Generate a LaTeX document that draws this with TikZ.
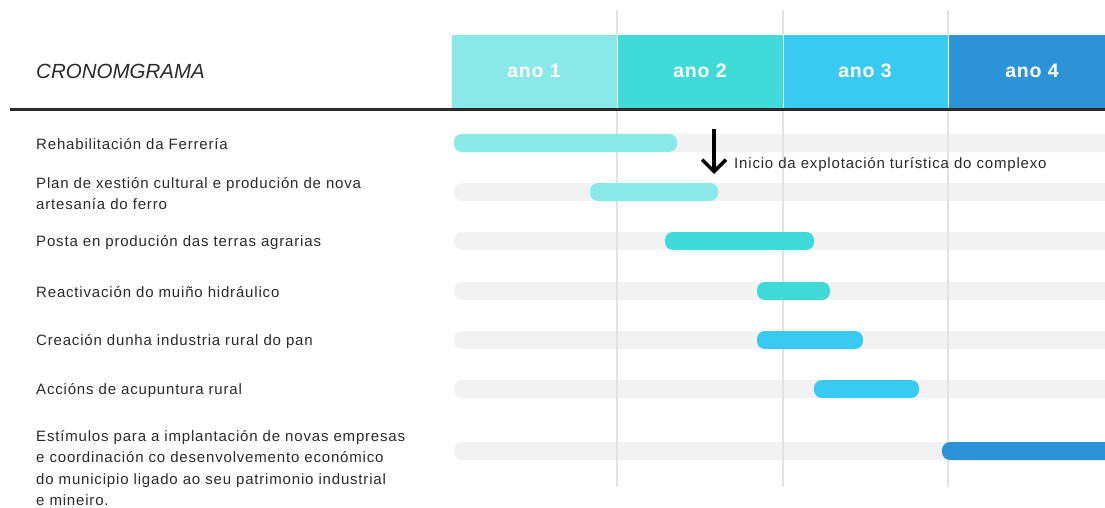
\documentclass[tikz,border=0pt]{standalone}
\usepackage{fontspec}
\setmainfont{Liberation Sans}
\newfontfamily\taskfont[LetterSpace=5.5]{Liberation Sans}
\newfontfamily\yearfont[LetterSpace=4]{Liberation Sans}
\usetikzlibrary{arrows.meta}
\definecolor{cA}{HTML}{88E9E8}
\definecolor{cB}{HTML}{40DBD8}
\definecolor{cC}{HTML}{3AC9F0}
\definecolor{cD}{HTML}{2E92D6}
\definecolor{barbg}{HTML}{F2F2F2}
\definecolor{gridc}{HTML}{E2E2E2}
\definecolor{txt}{HTML}{2A2A2A}
\tikzset{
  yearbox/.style={minimum height=74pt, minimum width=166pt, inner sep=0pt, anchor=north west, draw=white, line width=0.8pt},
  yeartext/.style={text=white, inner sep=0pt, font=\yearfont\fontsize{19.5}{22}\selectfont\bfseries},
  task/.style={anchor=west, inner sep=0pt, text=txt, align=left, font=\taskfont\fontsize{15}{22}\selectfont},
  taskm/.style={anchor=north west, inner sep=0pt, text=txt, align=left, font=\taskfont\fontsize{15}{21.5}\selectfont},
  bgbar/.style={fill=barbg, rounded corners=8pt},
  gridline/.style={draw=gridc, line width=1.2pt},
}
\begin{document}
\begin{tikzpicture}[x=1pt,y=-1pt]
\useasboundingbox (0,0) rectangle (1105,508);
\clip (0,0) rectangle (1105,508);
% background bars
\foreach \yc in {143,192,241,291,340,389,451}
  \fill[bgbar] (454,\yc-9) rectangle (1125,\yc+9);
% grid lines
\foreach \xg in {617,783,948}
  \draw[gridline] (\xg,10) -- (\xg,487);
% header
\node[anchor=west, inner sep=0pt, text=txt, font=\fontsize{20.5}{24}\selectfont\itshape] (title) at (36,71) {CRONOMGRAMA};
\node[yearbox, fill=cA] (y1) at (451,34) {};
\node[yearbox, fill=cB] (y2) at (617,34) {};
\node[yearbox, fill=cC] (y3) at (783,34) {};
\node[yearbox, fill=cD, minimum width=180pt] (y4) at (948,34) {};
\node[yeartext] (y1t) at (534,71) {ano 1};
\node[yeartext] (y2t) at (700,71) {ano 2};
\node[yeartext] (y3t) at (865,71) {ano 3};
\node[yeartext] (y4t) at (1032,71) {ano 4};
\fill[txt] (10,108.5) rectangle (1105,111.5);
% colored bars
\fill[cA, rounded corners=8pt] (454,134) rectangle (677,152);
\fill[cA, rounded corners=8pt] (590,183) rectangle (718,201);
\fill[cB, rounded corners=8pt] (665,232) rectangle (814,250);
\fill[cB, rounded corners=8pt] (757,282) rectangle (830,300);
\fill[cC, rounded corners=8pt] (757,331) rectangle (863,349);
\fill[cC, rounded corners=8pt] (814,380) rectangle (919,398);
\fill[cD, rounded corners=8pt] (942,442) rectangle (1125,460);
% task labels
\node[task] (t1) at (36,144) {Rehabilitación da Ferrería};
\node[taskm] (t2) at (36,177) {Plan de xestión cultural e produción de nova\\artesanía do ferro};
\node[task] (t3) at (36,243) {Posta en produción das terras agrarias};
\node[task] (t4) at (36,292) {Reactivación do muiño hidráulico};
\node[task] (t5) at (36,341.5) {Creación dunha industria rural do pan};
\node[task] (t6) at (36,390.5) {Accións de acupuntura rural};
\node[taskm] (t7) at (36,430) {Estímulos para a implantación de novas empresas\\e coordinación co desenvolvemento económico\\do municipio ligado ao seu patrimonio industrial\\e mineiro.};
% milestone
\coordinate (a0) at (714,129);
\coordinate (a1) at (714,174);
\draw[line width=3.5pt, -{Straight Barb[length=12pt,width=24pt,line width=3.5pt]}] (a0) -- (a1);
\node[task] (ms) at (734,164.5) {Inicio da explotación turística do complexo};
\end{tikzpicture}
\end{document}
